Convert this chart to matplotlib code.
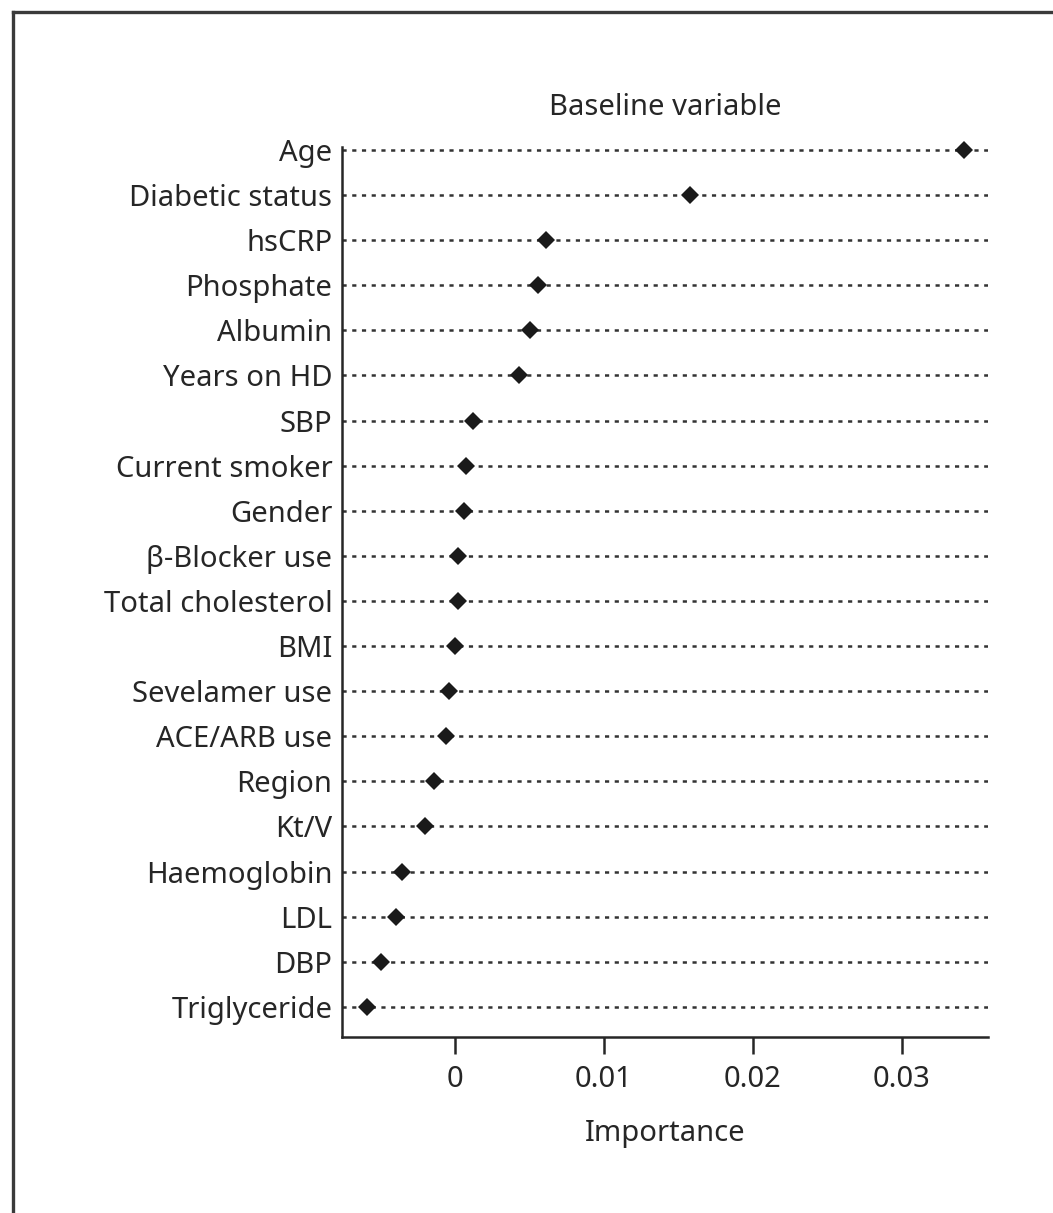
import numpy as np
import matplotlib.pyplot as plt
from matplotlib.lines import Line2D

plt.rcParams['font.family'] = ['Noto Sans', 'DejaVu Sans']
plt.rcParams['lines.scale_dashes'] = False

# Variable importance for each baseline variable (top to bottom)
variables = ['Age', 'Diabetic status', 'hsCRP', 'Phosphate', 'Albumin',
             'Years on HD', 'SBP', 'Current smoker', 'Gender', 'β-Blocker use',
             'Total cholesterol', 'BMI', 'Sevelamer use', 'ACE/ARB use',
             'Region', 'Kt/V', 'Haemoglobin', 'LDL', 'DBP', 'Triglyceride']
importance = [0.0342, 0.0158, 0.0061, 0.0056, 0.0050,
              0.0043, 0.0012, 0.0007, 0.0006, 0.0002,
              0.0002, -0.0000, -0.0004, -0.0006,
              -0.0014, -0.0020, -0.0036, -0.0040, -0.0050, -0.0059]
xticks = [0, 0.01, 0.02, 0.03]
xticklabels = ['0', '0.01', '0.02', '0.03']

ink = '#262626'
W, H = 1053, 1213
fig = plt.figure(figsize=(W / 100, H / 100), dpi=100)

# outer frame (left and top edges; the rest runs off the page)
frame = dict(color='#3a3a3a', lw=2.4, transform=fig.transFigure)
fig.add_artist(Line2D([13 / W, 13 / W], [0, 1 - 12 / H], **frame))
fig.add_artist(Line2D([13 / W, 1], [1 - 12 / H, 1 - 12 / H], **frame))

ax = fig.add_axes([342 / W, 1 - 1037 / H, (988 - 342) / W, (1037 - 147) / H])

xmin, xmax = -0.0076, 0.0358
y = np.arange(len(variables))
ax.hlines(y, xmin, xmax, colors='#333333', lw=1.8, linestyles=(0, (3.0, 4.0)))
ax.plot(importance, y, 'D', color='#1a1a1a', ms=9, mew=0, clip_on=False, zorder=3)

ax.set_xlim(xmin, xmax)
ax.set_ylim(19.67, -0.067)
ax.set_yticks(y)
ax.set_yticklabels(variables)
ax.set_xticks(xticks)
ax.set_xticklabels(xticklabels)

for side in ['top', 'right']:
    ax.spines[side].set_visible(False)
for side in ['left', 'bottom']:
    ax.spines[side].set_linewidth(1.8)
    ax.spines[side].set_color(ink)

ax.tick_params(axis='y', length=0, pad=7, labelsize=21, labelcolor=ink)
ax.tick_params(axis='x', length=12, width=1.8, color=ink, pad=8,
               labelsize=21, labelcolor=ink)

ax.set_xlabel('Importance', fontsize=21, color=ink, labelpad=18)
ax.set_title('Baseline variable', fontsize=21, color=ink, pad=23)

fig.savefig('out.png', dpi=100)
